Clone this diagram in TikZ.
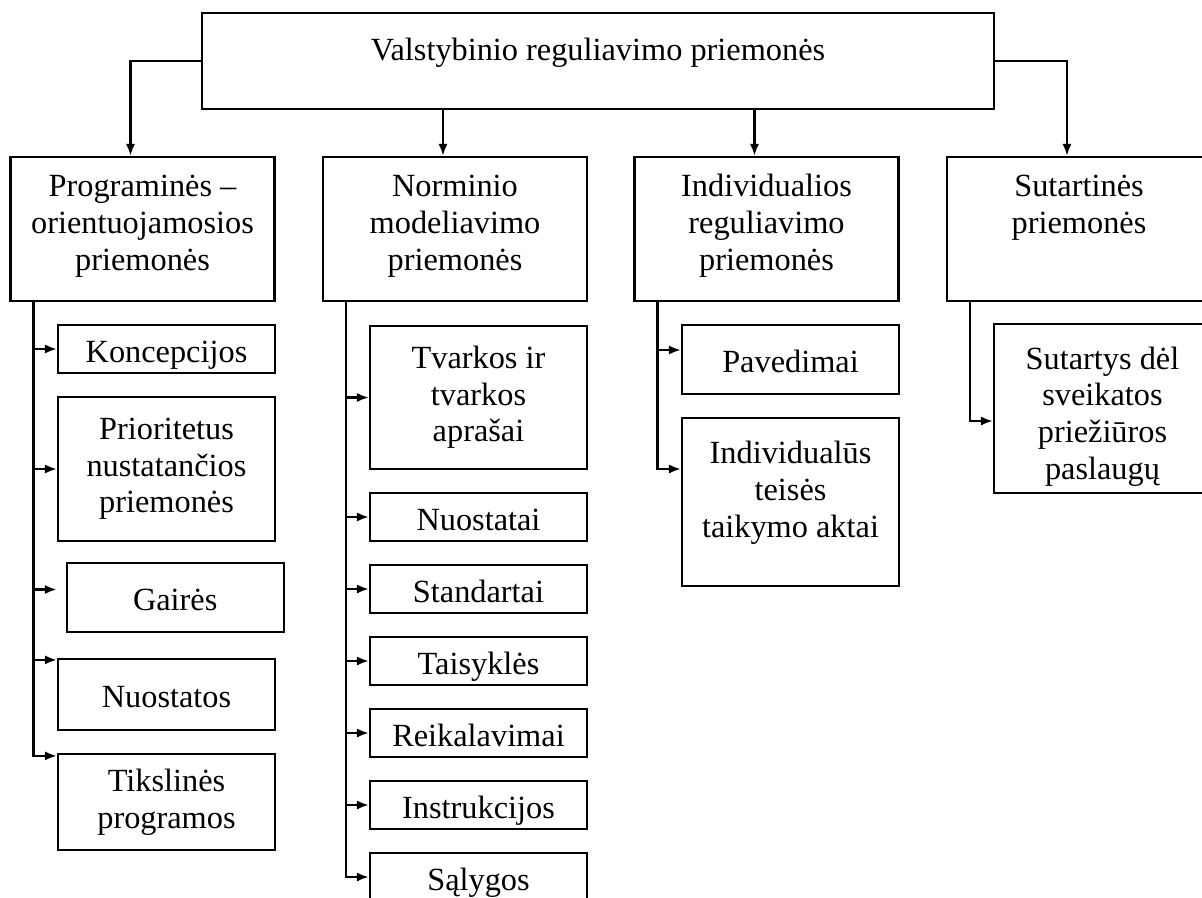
\documentclass[tikz,border=0pt]{standalone}
\usepackage{fontspec}
\setmainfont{Liberation Serif}
\usepackage{tikz}
\usetikzlibrary{arrows.meta}

\tikzset{
  box/.style={draw,rectangle,line width=1.6pt,inner sep=0pt,align=center,font=\fontsize{23}{26}\selectfont},
  head/.style={box,minimum width=6.6cm,minimum height=3.6cm,text height=2.1cm,text depth=0.05cm},
  item/.style={box,minimum width=5.425cm},
  single/.style={item,text height=0.75cm,text depth=0.1cm},
  arr/.style={line width=1.6pt,-{Latex[length=8.5pt,width=6.5pt]}}
}

\begin{document}
\begin{tikzpicture}

  \clip (0,0) rectangle (30.05,-22.425);

  \node[box,minimum width=19.8cm,minimum height=2.4cm,text height=0.6cm,text depth=0.65cm] (top) at (14.95,-1.525) {Valstybinio reguliavimo priemonės};

  \node[head] (prog) at (3.5625,-5.725) {Programinės –\\orientuojamosios\\priemonės};
  \node[head] (norm) at (11.375,-5.725) {Norminio\\modeliavimo\\priemonės};
  \node[head] (indiv) at (19.1625,-5.725) {Individualios\\reguliavimo\\priemonės};
  \node[head,text height=0.35cm,text depth=0.125cm] (sut) at (26.975,-5.725) {Sutartinės\\priemonės};

  \node[single,minimum height=1.2cm] (konc) at (4.1625,-8.725) {Koncepcijos};
  \node[item,minimum height=3.6cm] (prior) at (4.1625,-11.725) {Prioritetus\\nustatančios\\priemonės};
  \node[single,minimum height=1.725cm] (gair) at (4.38,-14.9375) {Gairės};
  \node[single,minimum height=1.775cm] (nuost) at (4.1625,-17.3625) {Nuostatos};
  \node[item,minimum height=2.4cm] (tiksl) at (4.1625,-20.05) {Tikslinės\\programos};

  \node[item,minimum height=3.575cm] (tvark) at (11.9625,-9.9375) {Tvarkos ir\\tvarkos\\aprašai};
  \node[single,minimum height=1.2cm] (nuosti) at (11.9625,-12.925) {Nuostatai};
  \node[single,minimum height=1.2cm] (stand) at (11.9625,-14.725) {Standartai};
  \node[single,minimum height=1.2cm] (taisy) at (11.9625,-16.525) {Taisyklės};
  \node[single,minimum height=1.2cm] (reik) at (11.9625,-18.325) {Reikalavimai};
  \node[single,minimum height=1.2cm] (instr) at (11.9625,-20.125) {Instrukcijos};
  \node[single,minimum height=1.2cm] (salyg) at (11.9625,-21.925) {Sąlygos};

  \node[single,minimum height=1.725cm] (paved) at (19.7625,-8.9875) {Pavedimai};
  \node[item,minimum height=4.2cm,text height=1.8cm,text depth=0.05cm] (indakt) at (19.7625,-12.55) {Individualūs\\teisės\\taikymo aktai};

  \node[item,minimum height=4.225cm,text height=3.6cm,text depth=0.075cm] (sutart) at (27.5625,-10.2125) {Sutartys dėl\\sveikatos\\priežiūros\\paslaugų};

  \coordinate (normTop) at ([xshift=-0.3cm]norm.north);
  \coordinate (indivTop) at ([xshift=-0.3cm]indiv.north);
  \draw[arr] (top.west) -| ([xshift=-0.3cm]prog.north);
  \draw[arr] (top.east) -| ([xshift=-0.3cm]sut.north);
  \draw[arr] (normTop |- top.south) -- (normTop);
  \draw[arr] (indivTop |- top.south) -- (indivTop);

  \coordinate (t1) at ([xshift=0.6cm]prog.south west);
  \coordinate (t2) at ([xshift=0.6cm]norm.south west);
  \coordinate (t3) at ([xshift=0.6cm]indiv.south west);
  \coordinate (t4) at ([xshift=0.6cm]sut.south west);

  \coordinate (gairIn) at ([xshift=-0.22cm,yshift=0.2cm]gair.west);
  \coordinate (nuostIn) at ([yshift=-0.05cm]nuost.north west);
  \coordinate (tikslIn) at ([yshift=-0.075cm]tiksl.north west);
  \coordinate (pavIn) at ([yshift=0.2375cm]paved.west);
  \coordinate (indIn) at ([yshift=0.825cm]indakt.west);
  \coordinate (sutIn) at ([yshift=-0.3125cm]sutart.west);

  \draw[arr] (t1) |- (tikslIn);
  \draw[arr] (t1 |- konc.west) -- (konc.west);
  \draw[arr] (t1 |- prior.west) -- (prior.west);
  \draw[arr] (t1 |- gairIn) -- (gairIn);
  \draw[arr] (t1 |- nuostIn) -- (nuostIn);

  \draw[arr] (t2) |- (salyg.west);
  \draw[arr] (t2 |- tvark.west) -- (tvark.west);
  \draw[arr] (t2 |- nuosti.west) -- (nuosti.west);
  \draw[arr] (t2 |- stand.west) -- (stand.west);
  \draw[arr] (t2 |- taisy.west) -- (taisy.west);
  \draw[arr] (t2 |- reik.west) -- (reik.west);
  \draw[arr] (t2 |- instr.west) -- (instr.west);

  \draw[arr] (t3) |- (indIn);
  \draw[arr] (t3 |- pavIn) -- (pavIn);

  \draw[arr] (t4) |- (sutIn);

\end{tikzpicture}
\end{document}
